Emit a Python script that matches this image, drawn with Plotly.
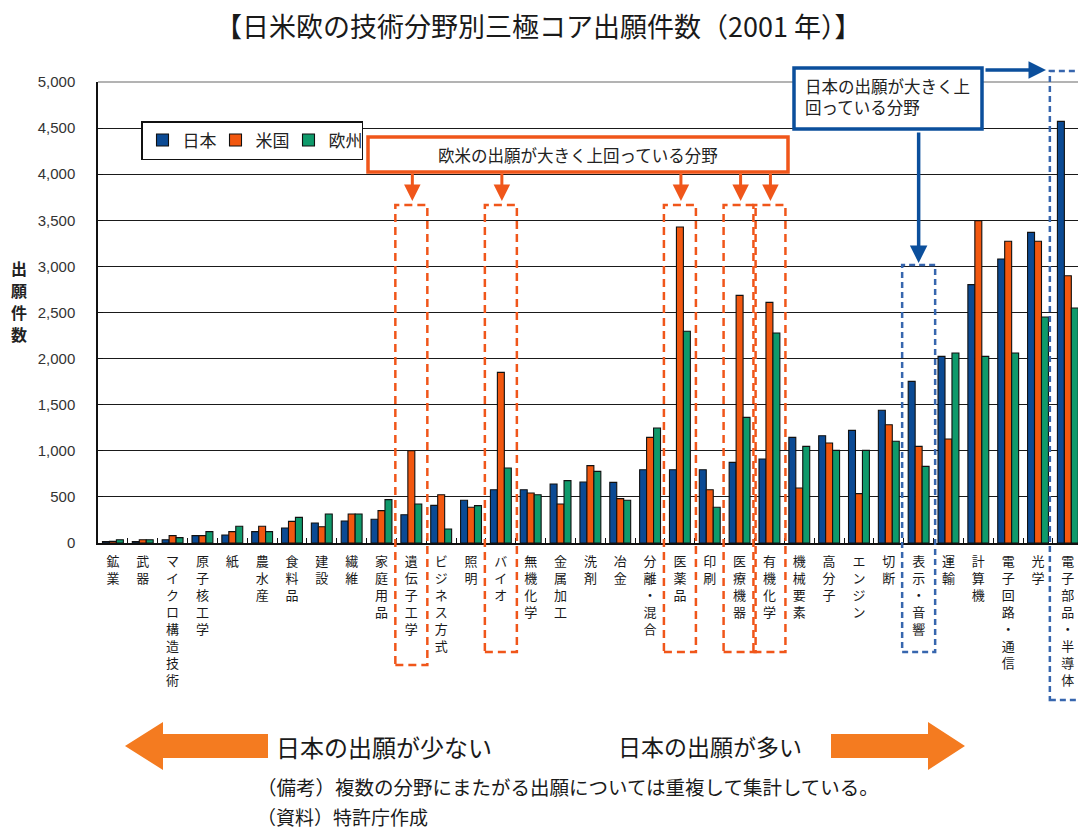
import plotly.graph_objects as go

categories = ['鉱業', '武器', 'マイクロ構造技術', '原子核工学', '紙', '農水産', '食料品', '建設',
              '繊維', '家庭用品', '遺伝子工学', 'ビジネス方式', '照明', 'バイオ', '無機化学',
              '金属加工', '洗剤', '冶金', '分離・混合', '医薬品', '印刷', '医療機器', '有機化学',
              '機械要素', '高分子', 'エンジン', '切断', '表示・音響', '運輸', '計算機',
              '電子回路・通信', '光学', '電子部品・半導体']

japan = [15, 15, 36, 80, 87, 123, 163, 217, 239, 257, 307, 408, 463, 578, 578, 640, 661,
         658, 795, 795, 795, 875, 911, 1146, 1164, 1222, 1439, 1753, 2024, 2802, 3080, 3369, 4573]
usa = [18, 36, 80, 80, 123, 181, 235, 177, 315, 351, 1001, 524, 387, 1851, 542, 423, 839,
       481, 1146, 3427, 578, 2686, 2610, 596, 1085, 535, 1283, 1048, 1128, 3496, 3272, 3272, 2899]
europe = [36, 36, 58, 123, 181, 123, 278, 315, 315, 470, 423, 152, 405, 813, 524, 676, 777,
          463, 1247, 2296, 387, 1363, 2277, 1048, 1005, 1005, 1103, 831, 2061, 2024, 2061, 2451, 2549]

series_names = ['日本', '米国', '欧州']
series_colors = ['#0B4A94', '#F2570F', '#0F9A6B']

y_ticks = [0, 500, 1000, 1500, 2000, 2500, 3000, 3500, 4000, 4500, 5000]
y_ticktext = ['0', '500', '1,000', '1,500', '2,000', '2,500', '3,000', '3,500', '4,000', '4,500', '5,000']
y_title_chars = ['出', '願', '件', '数']

title_text = '【日米欧の技術分野別三極コア出願件数（2001 年）】'
orange_box_text = '欧米の出願が大きく上回っている分野'
blue_box_text = '日本の出願が大きく上<br>回っている分野'
orange_targets = ['遺伝子工学', 'バイオ', '医薬品', '医療機器', '有機化学']
blue_target_box = '表示・音響'
blue_target_edge = '電子部品・半導体'

W, H = 1078, 830
L, T = 98, 82
B_PX = 543
PLOT_W = W - L
PLOT_H = B_PX - T
X_MIN, X_MAX = -0.5, 32.34

JP = 'Noto Sans CJK JP'


def px(x):
    return (x - L) / PLOT_W


def py(y):
    return (B_PX - y) / PLOT_H


def cat_px(name):
    i = categories.index(name)
    return L + (i - X_MIN) / (X_MAX - X_MIN) * PLOT_W


fig = go.Figure()
for name, vals, col in zip(series_names, [japan, usa, europe], series_colors):
    fig.add_trace(go.Bar(
        x=categories, y=vals, name=name,
        marker=dict(color=col, line=dict(color='#111111', width=1.1)),
    ))

tick_labels = ['<br>'.join(list(c)) for c in categories]

shapes = []
annotations = []

# top border line (light gray)
shapes.append(dict(type='line', xref='paper', yref='paper', x0=0, x1=1, y0=1, y1=1,
                   line=dict(color='#9a9a9a', width=1.5), layer='above'))

# orange dashed boxes
ORANGE = '#F0561A'
for name in orange_targets:
    cx = cat_px(name)
    bottom = 665 if name == '遺伝子工学' else 652
    shapes.append(dict(type='rect', xref='paper', yref='paper',
                       x0=px(cx - 16), x1=px(cx + 16), y0=py(bottom), y1=py(205),
                       line=dict(color=ORANGE, width=2.5, dash='8px,5px'), layer='above'))
    annotations.append(dict(x=px(cx + 1), y=py(201), xref='paper', yref='paper', text='',
                            showarrow=True, ax=0, ay=-29, arrowhead=2, arrowsize=1.1,
                            arrowwidth=3, arrowcolor=ORANGE))

# orange label box
shapes.append(dict(type='rect', xref='paper', yref='paper', x0=px(368), x1=px(788),
                   y0=py(172), y1=py(137), fillcolor='white',
                   line=dict(color=ORANGE, width=3.5), layer='above'))
annotations.append(dict(x=px(578), y=py(154.5), xref='paper', yref='paper', text=orange_box_text,
                        showarrow=False, font=dict(family=JP, size=16.5, color='#222222'),
                        xanchor='center', yanchor='middle'))

# blue dashed boxes
BLUE = '#0B4F9C'
BLUE_D = '#3766AE'
cxb = cat_px(blue_target_box)
shapes.append(dict(type='rect', xref='paper', yref='paper',
                   x0=px(cxb - 16.5), x1=px(cxb + 16.5), y0=py(652), y1=py(265),
                   line=dict(color=BLUE_D, width=2.5, dash='6px,4px'), layer='above'))
cxe = cat_px(blue_target_edge)
shapes.append(dict(type='rect', xref='paper', yref='paper',
                   x0=px(cxe - 18), x1=px(cxe + 40), y0=py(700), y1=py(71),
                   line=dict(color=BLUE_D, width=2.5, dash='6px,4px'), layer='above'))

# blue label box
shapes.append(dict(type='rect', xref='paper', yref='paper', x0=px(794), x1=px(982),
                   y0=py(129), y1=py(68), fillcolor='white',
                   line=dict(color=BLUE, width=3.5), layer='above'))
annotations.append(dict(x=px(803), y=py(97), xref='paper', yref='paper', text=blue_box_text,
                        showarrow=False, font=dict(family=JP, size=16.5, color='#222222'),
                        xanchor='left', yanchor='middle', align='left'))
annotations.append(dict(x=px(cxb), y=py(263), xref='paper', yref='paper', text='',
                        showarrow=True, ax=0, ay=-(263 - 131), arrowhead=2, arrowsize=1.0,
                        arrowwidth=3.5, arrowcolor=BLUE))
annotations.append(dict(x=px(1046), y=py(70), xref='paper', yref='paper', text='',
                        showarrow=True, ax=-(1046 - 984), ay=0, arrowhead=2, arrowsize=1.0,
                        arrowwidth=3.5, arrowcolor=BLUE))

# bottom block arrows
ARROW_OR = '#F47B20'


def path_from_pixels(pts):
    s = 'M ' + ' L '.join(f'{px(x):.5f},{py(y):.5f}' for x, y in pts) + ' Z'
    return s


left_arrow = [(125, 746), (163, 722), (163, 734), (268, 734), (268, 758), (163, 758), (163, 770)]
right_arrow = [(965, 746), (928, 722), (928, 734), (831, 734), (831, 758), (928, 758), (928, 770)]
for pts in (left_arrow, right_arrow):
    shapes.append(dict(type='path', xref='paper', yref='paper', path=path_from_pixels(pts),
                       fillcolor=ARROW_OR, line=dict(width=0), layer='above'))

annotations.append(dict(x=px(274), y=py(746), xref='paper', yref='paper', text='日本の出願が少ない',
                        showarrow=False, font=dict(family=JP, size=24, color='#1a1a1a'),
                        xanchor='left', yanchor='middle'))
annotations.append(dict(x=px(616), y=py(746), xref='paper', yref='paper', text='日本の出願が多い',
                        showarrow=False, font=dict(family=JP, size=23, color='#1a1a1a'),
                        xanchor='left', yanchor='middle'))
annotations.append(dict(x=px(255), y=py(786), xref='paper', yref='paper',
                        text='（備考）複数の分野にまたがる出願については重複して集計している。',
                        showarrow=False, font=dict(family=JP, size=19.5, color='#1a1a1a'),
                        xanchor='left', yanchor='middle'))
annotations.append(dict(x=px(255), y=py(816), xref='paper', yref='paper',
                        text='（資料）特許庁作成',
                        showarrow=False, font=dict(family=JP, size=19, color='#1a1a1a'),
                        xanchor='left', yanchor='middle'))

# title
annotations.append(dict(x=px(538), y=py(26), xref='paper', yref='paper', text=title_text,
                        showarrow=False, font=dict(family=JP, size=27, color='#1a1a1a'),
                        xanchor='center', yanchor='middle'))

# y-axis title (vertical, one character per row)
for k, ch in enumerate(y_title_chars):
    annotations.append(dict(x=px(19), y=py(268 + 22 * k), xref='paper', yref='paper',
                            text=ch, showarrow=False,
                            font=dict(family=JP, size=16, color='#222222', weight='bold'),
                            xanchor='center', yanchor='middle'))

fig.update_layout(
    width=W, height=H,
    margin=dict(l=L, r=0, t=T, b=H - B_PX, pad=0),
    paper_bgcolor='white', plot_bgcolor='white',
    barmode='group', bargap=0.3, bargroupgap=0.0,
    font=dict(family=JP, color='#222222'),
    legend=dict(orientation='h', x=px(141), y=py(121), xanchor='left', yanchor='top',
                bgcolor='white', bordercolor='#111111', borderwidth=1.5,
                font=dict(family=JP, size=17, color='#222222'),
                itemwidth=30, entrywidth=28, entrywidthmode='pixels',
                tracegroupgap=0, traceorder='normal'),
    xaxis=dict(type='category', range=[X_MIN, X_MAX], tickmode='array',
               tickvals=categories, ticktext=tick_labels, tickangle=0,
               tickfont=dict(family=JP, size=13, color='#1a1a1a'),
               ticks='inside', ticklen=5, tickcolor='#111111', tickwidth=1.2,
               tickson='boundaries', showgrid=False, showline=True,
               linecolor='#111111', linewidth=1.5, automargin=False,
               ticklabelstandoff=6, fixedrange=True),
    yaxis=dict(range=[0, 5000], tickmode='array', tickvals=y_ticks, ticktext=y_ticktext,
               tickfont=dict(family='Liberation Sans', size=15, color='#333333'),
               ticks='inside', ticklen=5, tickcolor='#111111',
               showgrid=True, gridcolor='#1a1a1a', gridwidth=1.2, zeroline=False,
               showline=True, linecolor='#111111', linewidth=1.5,
               automargin=False, ticklabelstandoff=18, fixedrange=True),
    shapes=shapes, annotations=annotations,
    showlegend=True,
)

fig.write_html('out.html', config={'displayModeBar': False})
